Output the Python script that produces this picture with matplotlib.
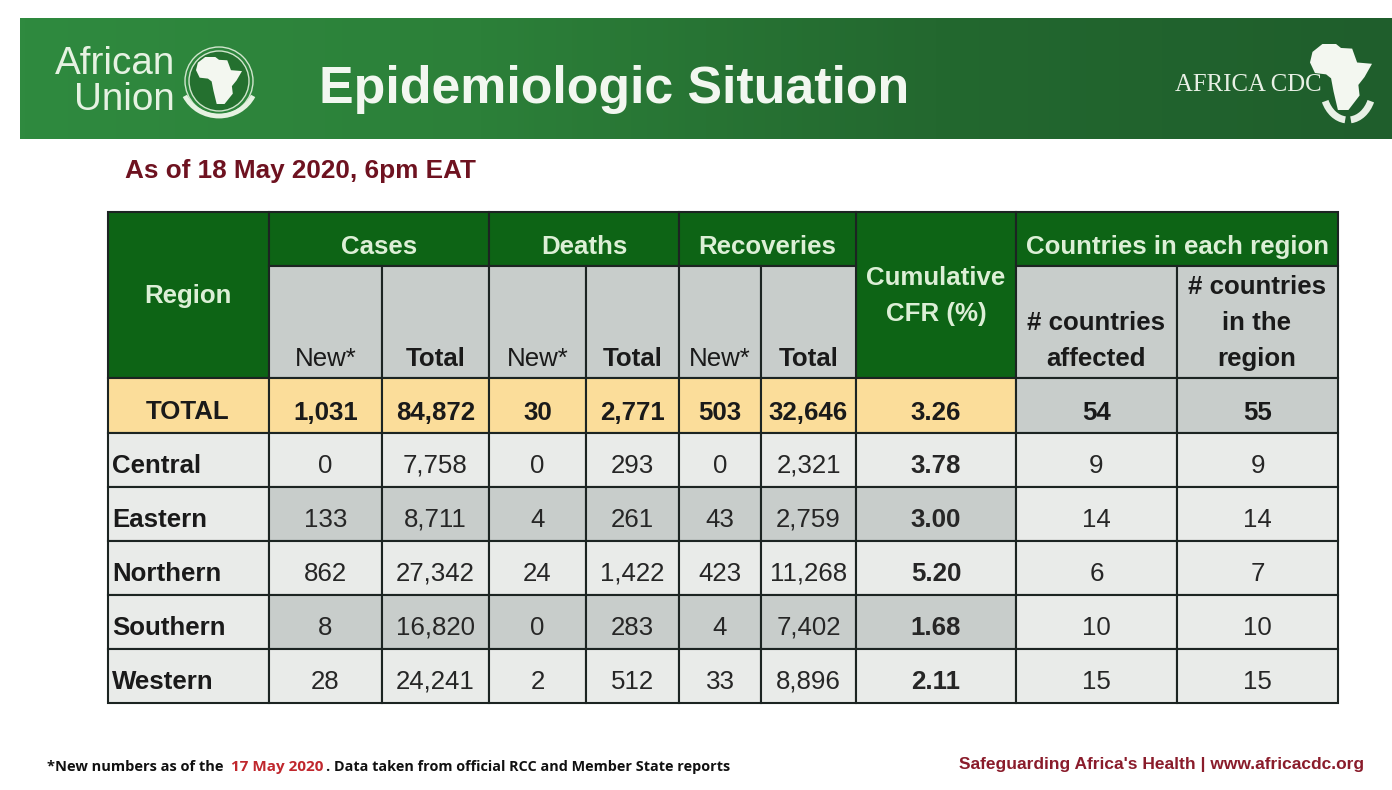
import numpy as np
import matplotlib
matplotlib.use("Agg")
import matplotlib.pyplot as plt
from matplotlib.patches import Rectangle, Polygon, Circle, Arc
from matplotlib.colors import LinearSegmentedColormap

plt.rcParams['font.family'] = ['Liberation Sans', 'DejaVu Sans']

regions = ["Central", "Eastern", "Northern", "Southern", "Western"]
new_cases = ["0", "133", "862", "8", "28"]
total_cases = ["7,758", "8,711", "27,342", "16,820", "24,241"]
new_deaths = ["0", "4", "24", "0", "2"]
total_deaths = ["293", "261", "1,422", "283", "512"]
new_recov = ["0", "43", "423", "4", "33"]
total_recov = ["2,321", "2,759", "11,268", "7,402", "8,896"]
cfr = ["3.78", "3.00", "5.20", "1.68", "2.11"]
affected = ["9", "14", "6", "10", "15"]
in_region = ["9", "14", "7", "10", "15"]
totals = ["1,031", "84,872", "30", "2,771", "503", "32,646", "3.26", "54", "55"]
shaded_rows = ["Eastern", "Southern"]

col_x = [108, 269, 382, 489, 586, 679, 761, 856, 1016, 1177, 1338]
row_y = [378, 433, 487, 541, 595, 649, 703]

DARK_GREEN = "#0d6415"
GREY = "#c8cdcb"
LIGHT = "#e9ebe9"
YELLOW = "#fbdd9a"
LINE = "#1c2422"
FS = 18.6

fig = plt.figure(figsize=(13.92, 7.9), dpi=100)
ax = fig.add_axes([0, 0, 1, 1])
ax.set_xlim(0, 1392)
ax.set_ylim(790, 0)
ax.axis("off")


def cell(x0, x1, y0, y1, color):
    ax.add_patch(Rectangle((x0, y0), x1 - x0, y1 - y0, fc=color, ec=LINE, lw=1.5, zorder=2))


def label(x, y, s, color="#1a1a1a", weight="bold", ha="center"):
    # baseline anchored so that commas do not push the numbers down
    ax.text(x, y, s, color=color, fontsize=FS, weight=weight, ha=ha, va="baseline", zorder=3)


# banner
cmap = LinearSegmentedColormap.from_list("banner", ["#2f8a3f", "#2c8039", "#23682f", "#1f5e2c"])
ax.imshow(np.linspace(0, 1, 256).reshape(1, -1), extent=(20, 1392, 139, 18), cmap=cmap,
          aspect="auto", zorder=1)
ax.set_xlim(0, 1392)
ax.set_ylim(790, 0)
ax.text(319, 90, "Epidemiologic Situation", color="#f2f7f0", fontsize=37.4, weight="bold",
        va="center", ha="left", zorder=3)
ax.text(175, 64, "African", color="#e6f2e2", fontsize=27.8, va="center", ha="right", zorder=3)
ax.text(175, 100, "Union", color="#e6f2e2", fontsize=27.8, va="center", ha="right", zorder=3)
ax.text(1175, 85, "AFRICA CDC", color="#e8f0e5", fontsize=17.8, family="Liberation Serif",
        va="center", ha="left", zorder=3)

# rough Africa outline, unit box
africa = np.array([[.20, 0], [.42, 0], [.50, .06], [.68, .07], [.76, .28], [1.0, .30], [.88, .50],
                   [.78, .62], [.80, .78], [.62, 1.0], [.45, 1.0], [.38, .72], [.34, .52],
                   [.26, .46], [.08, .44], [0, .28], [.04, .12]])


def draw_africa(x, y, w, h):
    ax.add_patch(Polygon(africa * [w, h] + [x, y], closed=True, fc="#f3f7f0", ec="none", zorder=4))


ax.add_patch(Circle((219, 81), 34, fc="none", ec="#cfe5cc", lw=1.0, zorder=3))
ax.add_patch(Circle((219, 81), 30, fc="#24702f", ec="#cfe5cc", lw=1.0, zorder=3))
draw_africa(196, 57, 46, 47)
draw_africa(1310, 44, 62, 66)
# wreath around the emblem, hands under the CDC map
ax.add_patch(Arc((219, 80), 76, 72, theta1=25, theta2=155, ec="#e6f2e2", lw=3.5, zorder=3))
ax.add_patch(Arc((1348, 88), 50, 64, theta1=30, theta2=85, ec="#e8f0e5", lw=5, zorder=3))
ax.add_patch(Arc((1348, 88), 50, 64, theta1=95, theta2=150, ec="#e8f0e5", lw=5, zorder=3))

ax.text(125, 171, "As of 18 May 2020, 6pm EAT", color="#6e1220", fontsize=18.8, weight="bold",
        va="center", ha="left", zorder=3)

# header cells
HEAD_TEXT = "#dcefd6"
cell(col_x[0], col_x[1], 212, 378, DARK_GREEN)
cell(col_x[7], col_x[8], 212, 378, DARK_GREEN)
for i0, i1, name in [(1, 3, "Cases"), (3, 5, "Deaths"), (5, 7, "Recoveries"),
                     (8, 10, "Countries in each region")]:
    cell(col_x[i0], col_x[i1], 212, 266, DARK_GREEN)
    label((col_x[i0] + col_x[i1]) / 2, 254, name, color=HEAD_TEXT)
label(188, 303, "Region", color=HEAD_TEXT)
label(936, 285, "Cumulative", color=HEAD_TEXT)
label(936, 321, "CFR (%)", color=HEAD_TEXT)

for i in range(1, 7):
    cell(col_x[i], col_x[i + 1], 266, 378, GREY)
    bold = i % 2 == 0
    label((col_x[i] + col_x[i + 1]) / 2, 366, "Total" if bold else "New*",
          weight="bold" if bold else "normal")
cell(col_x[8], col_x[9], 266, 378, GREY)
cell(col_x[9], col_x[10], 266, 378, GREY)
label(1096, 330, "# countries")
label(1096, 366, "affected")
label(1257, 294, "# countries")
label(1257, 330, "in the")
label(1257, 366, "region")

# total row
cell(col_x[0], col_x[1], row_y[0], row_y[1], YELLOW)
label(188, 419, "TOTAL")
for i, val in enumerate(totals):
    cell(col_x[i + 1], col_x[i + 2], row_y[0], row_y[1], GREY if i >= 7 else YELLOW)
    label((col_x[i + 1] + col_x[i + 2]) / 2, 420, val)

# region rows
columns = [new_cases, total_cases, new_deaths, total_deaths, new_recov, total_recov, cfr, affected, in_region]
for r, name in enumerate(regions):
    y0, y1 = row_y[r + 1], row_y[r + 2]
    ym = (y0 + y1) / 2 + 13
    cell(col_x[0], col_x[1], y0, y1, LIGHT)
    label(112, ym, name, ha="left")
    for c, values in enumerate(columns):
        shade = name in shaded_rows and c < 7
        cell(col_x[c + 1], col_x[c + 2], y0, y1, GREY if shade else LIGHT)
        label((col_x[c + 1] + col_x[c + 2]) / 2, ym, values[r], color="#262626",
              weight="bold" if c == 6 else "normal")

# footer
ax.text(47, 767, "*New numbers as of the", color="#111111", fontsize=10.5, weight="bold",
        family="Open Sans", va="center", ha="left", zorder=3)
ax.text(231, 767, "17 May 2020", color="#c0272d", fontsize=11, weight="bold", family="Open Sans",
        va="center", ha="left", zorder=3)
ax.text(326, 767, ". Data taken from official RCC and Member State reports", color="#111111", fontsize=10.4,
        weight="bold", family="Open Sans", va="center", ha="left", zorder=3)
ax.text(959, 764, "Safeguarding Africa's Health | www.africacdc.org", color="#8a1c2b", fontsize=12.5,
        weight="bold", va="center", ha="left", zorder=3)

fig.savefig("out.png", dpi=100)
